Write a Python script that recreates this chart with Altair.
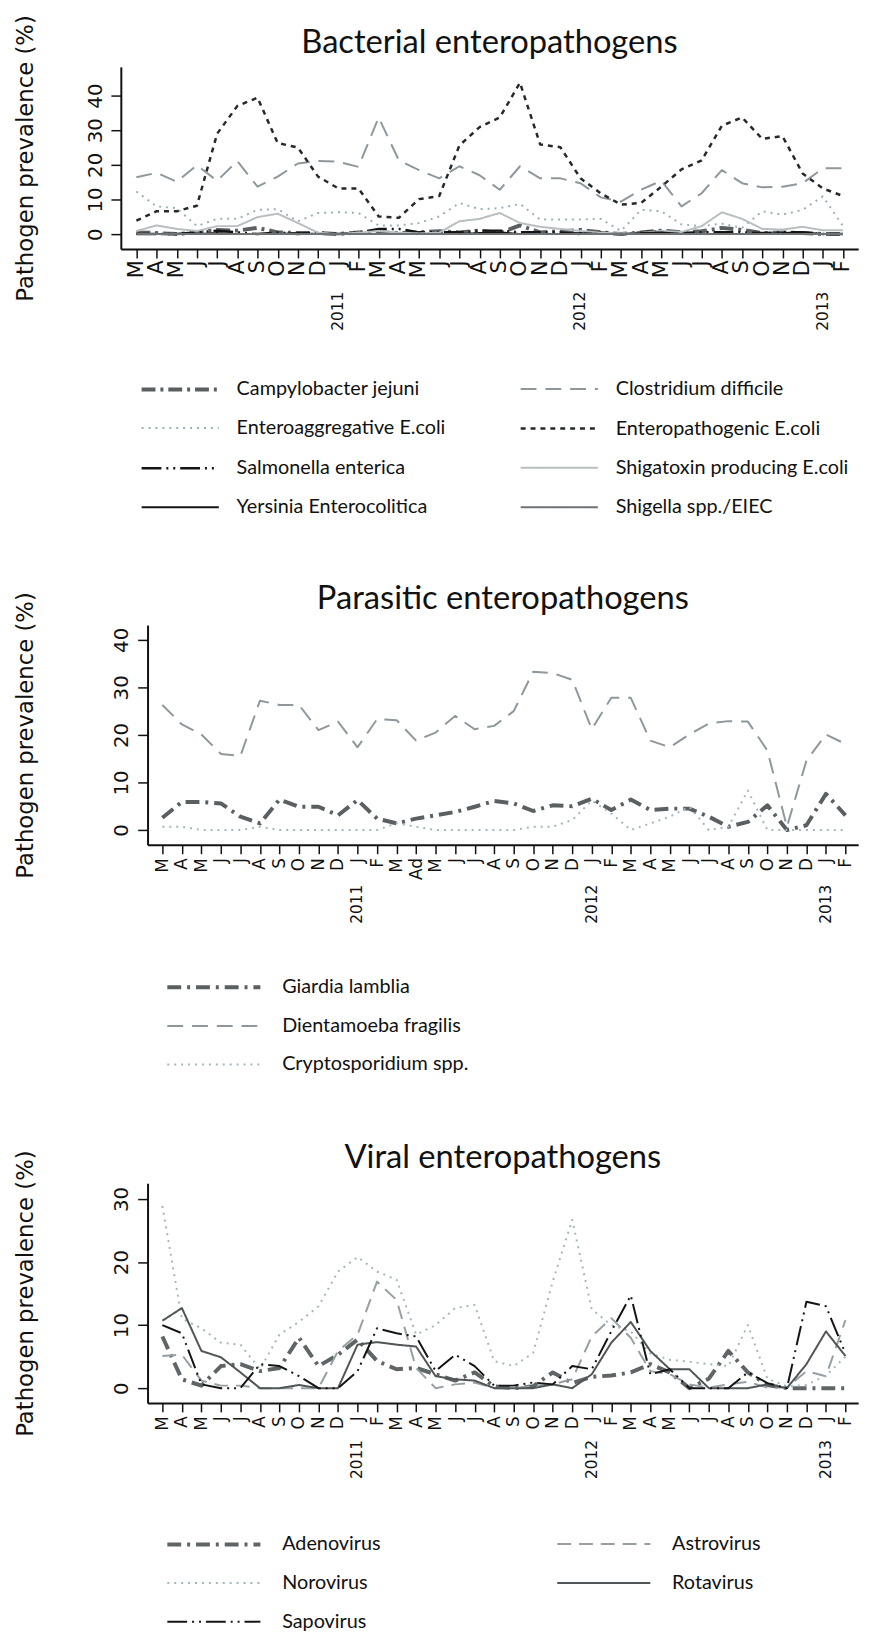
import altair as alt
import pandas as pd

# ---------------- axis texts ----------------
MONTHS = ["M", "A", "M", "J", "J", "A", "S", "O", "N", "D", "J", "F"] * 3
MONTHS_PARA = MONTHS[:13] + ["Ad"] + MONTHS[14:]
YEARS = ["2011", "2012", "2013"]
YEAR_IDX = [10, 22, 34]

# ---------------- bacterial ----------------
BACT_NAMES = ["Campylobacter jejuni", "Clostridium difficile", "Enteroaggregative E.coli",
              "Enteropathogenic E.coli", "Salmonella enterica", "Shigatoxin producing E.coli",
              "Yersinia Enterocolitica", "Shigella spp./EIEC"]
campylobacter = [0.5, 0.3, 0, 0.5, 1.2, 1, 1.8, 0.5, 0.3, 0.3, 0, 0.5, 0.5, 0.3, 0.5, 0.8, 0.5, 1,
                 0.3, 2.5, 0.5, 0.8, 1.2, 0.5, 0, 0.5, 1, 0.5, 0.8, 1.8, 1.2, 0.3, 0.5, 0.3, 0, 0]
clostridium = [16.4, 17.7, 15.1, 19.9, 15.4, 21.1, 13.7, 16.6, 20.4, 21.1, 20.9, 19.4, 33.7, 21.3,
               18.5, 16.1, 19.6, 17, 12.8, 19.6, 16.1, 16.1, 14.7, 10.6, 9.4, 12.8, 15.4, 8, 11.8,
               18.5, 14.7, 13.5, 13.7, 14.7, 19, 19]
eaec = [12.3, 8, 7.5, 2.3, 4.4, 4.4, 7, 7.2, 3.7, 6.1, 6.3, 6.1, 2.5, 2.5, 3.2, 5.1, 9, 7.2, 7.5,
        8.7, 4.2, 4.2, 4.2, 4.4, 0.9, 7, 6.6, 2.8, 2.3, 3, 1.8, 6.6, 5.6, 7, 10.9, 2.3]
epec = [3.9, 6.6, 6.6, 8.2, 29, 37, 39.4, 26.3, 25, 16.6, 13.2, 13.2, 5.1, 4.7, 10.1, 11, 25.6,
        30.9, 33.7, 43.7, 25.9, 25.1, 16.1, 11.8, 8.5, 9, 13.7, 18.7, 21.3, 31.3, 33.7, 27.5,
        28.3, 17.5, 13.2, 11]
salmonella = [0, 0, 0, 0.5, 1, 0.5, 0, 0.5, 0, 0.5, 0, 0.5, 1.5, 1.5, 0.5, 0.5, 0.5, 1, 1, 0.5,
              0.5, 0.5, 0, 0.5, 0, 0.5, 0.8, 0.3, 0.5, 0.5, 0.5, 0.3, 0.5, 0.5, 0, 0]
stec = [0.9, 2.5, 1.5, 0.9, 2.3, 2.3, 4.9, 5.9, 3.2, 0.4, 0, 0.4, 0.9, 0.4, 0.2, 0.4, 3.7, 4.4,
        6.1, 3.2, 2.1, 1.5, 0.9, 0.4, 0.2, 0.4, 0.9, 0.6, 2.3, 6.3, 4.4, 1.5, 1.3, 2.1, 1.1, 1.1]
yersinia = [0, 0, 0, 0, 0.3, 0, 0, 0, 0.3, 0, 0, 0, 0, 0, 0, 0, 0, 0.3, 0.5, 0, 0, 0, 0.3, 0, 0,
            0.3, 0.5, 0, 0, 0, 0, 0, 0.3, 0.5, 0, 0]
shigella = [0, 0, 0, 0, 0, 0, 0, 0, 0, 0, 0, 0, 0, 0, 0, 0, 0, 0, 0, 0, 0, 0, 0, 0, 0, 0, 0, 0,
            0, 0, 0, 0, 0, 0, 0, 0]
BACT_SERIES = [campylobacter, clostridium, eaec, epec, salmonella, stec, yersinia, shigella]
BACT_COLORS = ["#5a5f62", "#8e979b", "#9aafb9", "#25292b", "#141414", "#b9bec0", "#141414", "#6e7274"]
BACT_DASHES = [[14, 5, 3, 5], [16, 9], [2, 5], [5, 5], [20, 5, 2, 5, 2, 5], [1, 0], [1, 0], [1, 0]]
BACT_WIDTHS = [4, 2, 2, 2.5, 2.5, 2, 2, 2]

# ---------------- parasitic ----------------
PARA_NAMES = ["Giardia lamblia", "Dientamoeba fragilis", "Cryptosporidium spp."]
giardia = [2.6, 5.9, 5.9, 5.6, 2.8, 1.4, 6.4, 4.9, 4.9, 3.1, 6.3, 2.4, 1.4, 2.4, 3.1, 3.8, 4.9,
           6.1, 5.6, 4, 5.2, 5, 6.6, 4.2, 6.4, 4.2, 4.5, 4.5, 2.8, 0.7, 1.7, 5.2, 0, 1, 7.6, 3.1]
dientamoeba = [26.3, 22.2, 20.1, 16, 15.6, 27.2, 26.3, 26.3, 21, 22.8, 17.4, 23.3, 23.1, 18.8,
               20.5, 24, 21.2, 21.9, 25, 33.3, 33, 31.6, 21.2, 27.8, 27.8, 18.8, 17.4, 20.1,
               22.4, 22.9, 22.8, 16.7, 0.7, 14.6, 20.1, 18.1]
cryptosporidium = [0.7, 0.7, 0, 0, 0, 0.7, 0, 0, 0, 0, 0, 0, 1.4, 0.7, 0, 0, 0, 0, 0, 0.7, 0.7,
                   2.1, 6.2, 3.5, 0, 1.4, 2.8, 4.9, 0, 0.7, 8.3, 0, 0, 0, 0, 0]
PARA_SERIES = [giardia, dientamoeba, cryptosporidium]
PARA_COLORS = ["#5a5f62", "#8e979b", "#a3b5be"]
PARA_DASHES = [[14, 6, 3, 6], [16, 9], [2, 5]]
PARA_WIDTHS = [4, 2, 2]

# ---------------- viral ----------------
VIR_NAMES = ["Adenovirus", "Astrovirus", "Norovirus", "Rotavirus", "Sapovirus"]
adenovirus = [8.2, 1.4, 0.4, 3.5, 3.8, 2.7, 3.2, 8, 3.5, 5.3, 7.7, 4.3, 3, 3.2, 2.2, 1.2, 2.5,
              0.3, 0, 0.3, 2.5, 0.8, 1.8, 2, 2.5, 3.8, 2.5, 0, 1.5, 5.9, 2.5, 0.5, 0, 0, 0, 0]
astrovirus = [5.1, 5.3, 1.2, 0.4, 0.4, 0, 0, 0, 0, 5.9, 8.5, 16.9, 14, 3.2, 0, 0.6, 0.9, 0, 0,
              0.4, 0.6, 1.4, 8.2, 11.1, 8, 2.7, 2.2, 0.6, 0.1, 0.6, 1, 0.1, 0.1, 2.7, 1.9, 10.8]
norovirus = [28.9, 11, 9.5, 7.2, 6.9, 3, 8.5, 10.5, 13, 18.5, 20.8, 18.5, 17.2, 8.5, 10, 12.7,
             13.2, 4.3, 3.5, 5.6, 16.9, 26.7, 12.5, 10, 9, 5.5, 4.5, 4.2, 3.8, 3.5, 10, 1.5, 0.3,
             0.5, 2, 5]
rotavirus = [10.7, 12.7, 5.9, 4.9, 2.5, 0, 0, 0.5, 0, 0, 6.9, 7.3, 6.9, 6.6, 1.9, 1.4, 1.2, 0, 0,
             0, 0.6, 0, 2.2, 7.2, 10.5, 5.9, 3, 3, 0, 0, 0, 0.6, 0, 3.8, 9, 5.1]
sapovirus = [10, 8.7, 0.6, 0, 0, 3.8, 3.5, 1.9, 0, 0, 2.7, 9.5, 8.7, 8.2, 2.7, 5.3, 3.5, 0.4, 0.4,
             0.9, 0.6, 3.5, 3, 9, 14.7, 2.2, 3, 0, 0, 0, 2.5, 0.8, 0, 13.7, 13, 5.5]
VIR_SERIES = [adenovirus, astrovirus, norovirus, rotavirus, sapovirus]
VIR_COLORS = ["#5f6466", "#979fa3", "#a3b5be", "#505557", "#141414"]
VIR_DASHES = [[14, 6, 3, 6], [14, 8], [2, 5], [1, 0], [20, 5, 2, 5, 2, 5]]
VIR_WIDTHS = [4, 2, 2, 2, 2]

AX_FONT = "DejaVu Sans"
TXT_FONT = "Lato"
INK = "#111111"
WIDTH = 745
HEIGHT = 222
SYM = 56  # legend symbol size base (px)


def long_df(names, series):
    rows = []
    for name, vals in zip(names, series):
        for i, v in enumerate(vals):
            rows.append({"i": i, "pathogen": name, "value": v})
    return pd.DataFrame(rows)


def make_legend(lx, ly, cols, colpad, symlen, lbloff):
    k = symlen / SYM
    path = "M-%.3f,0H%.3f" % (k, k)
    return alt.Legend(orient="none", legendX=lx, legendY=ly, columns=cols, direction="horizontal",
                      columnPadding=colpad, rowPadding=0, symbolType=path,
                      symbolSize=SYM * SYM, labelFont=TXT_FONT, labelFontSize=20,
                      labelColor=INK, labelOffset=lbloff, labelLimit=400, padding=0)


def panel(names, series, colors, dashes, widths, title, title_x, title_y, months, month_size,
          month_pad, xdomain, xrange, xoffset, ydomain, yrange, yticks, yoffset, ytitle_pad,
          year_y, legend):
    df = long_df(names, series)
    expr = "[" + ",".join("'" + m + "'" for m in months) + "][datum.value]"
    xscale = alt.Scale(domain=xdomain, range=xrange, nice=False, zero=False)
    xaxis = alt.Axis(values=list(range(len(months))), labelExpr=expr, labelAngle=-90,
                     labelAlign="right", labelBaseline="middle", labelOverlap=False,
                     labelFlush=False, labelFont=AX_FONT, labelFontSize=month_size,
                     labelColor=INK, labelPadding=month_pad, tickSize=9, tickWidth=1.5,
                     tickColor=INK, domainColor=INK, domainWidth=2, grid=False, offset=xoffset)
    x = alt.X("i:Q", title=None, scale=xscale, axis=xaxis)
    yaxis = alt.Axis(values=yticks, labelAngle=-90, labelAlign="center", labelBaseline="bottom",
                     labelFont=AX_FONT, labelFontSize=20, labelColor=INK, labelPadding=6,
                     tickSize=10, tickWidth=1.5, tickColor=INK, domainColor=INK, domainWidth=2,
                     grid=False, offset=yoffset, title="Pathogen prevalence (%)",
                     titleFont=AX_FONT, titleFontSize=23, titleFontWeight="normal",
                     titleColor=INK, titlePadding=ytitle_pad)
    yscale = alt.Scale(domain=ydomain, range=yrange, nice=False, zero=False)
    y = alt.Y("value:Q", scale=yscale, axis=yaxis)
    lines = alt.Chart(df).mark_line(strokeJoin="round").encode(
        x=x, y=y,
        color=alt.Color("pathogen:N", title=None,
                        scale=alt.Scale(domain=names, range=colors), legend=legend),
        strokeDash=alt.StrokeDash("pathogen:N", title=None,
                                  scale=alt.Scale(domain=names, range=dashes), legend=legend),
        strokeWidth=alt.StrokeWidth("pathogen:N", title=None,
                                    scale=alt.Scale(type="ordinal", domain=names, range=widths),
                                    legend=legend),
    )
    ydf = pd.DataFrame({"i": YEAR_IDX, "year": YEARS})
    years = alt.Chart(ydf).mark_text(angle=270, align="center", baseline="middle",
                                     font=AX_FONT, fontSize=15.5, color=INK).encode(
        x=x, y=alt.value(year_y), text="year:N")
    tdf = pd.DataFrame({"t": [title]})
    ttl = alt.Chart(tdf).mark_text(align="center", baseline="alphabetic", font=TXT_FONT,
                                   fontSize=33, color=INK).encode(
        x=alt.value(title_x), y=alt.value(title_y), text="t:N")
    return alt.layer(lines, years, ttl).properties(width=WIDTH, height=HEIGHT)


bact = panel(BACT_NAMES, BACT_SERIES, BACT_COLORS, BACT_DASHES, BACT_WIDTHS,
             "Bacterial enteropathogens", 372.5, -14, MONTHS, 21, 2,
             [-0.77, 35.75], [0, WIDTH], -38, [-4.3, 48.3], [184, 0], [0, 10, 20, 30, 40],
             0, 48, 247, make_legend(30, 296, 2, 69, 78, 27))
para = panel(PARA_NAMES, PARA_SERIES, PARA_COLORS, PARA_DASHES, PARA_WIDTHS,
             "Parasitic enteropathogens", 386, -16, MONTHS_PARA, 17, 4,
             [-0.76, 35.65], [27, WIDTH], 0, [-3.1, 43.1], [HEIGHT, 0], [0, 10, 20, 30, 40],
             -27, 75, 282, make_legend(64, 336, 1, 100, 94, 39))
viral = panel(VIR_NAMES, VIR_SERIES, VIR_COLORS, VIR_DASHES, VIR_WIDTHS,
              "Viral enteropathogens", 386, -15, MONTHS, 17, 4,
              [-0.76, 35.65], [27, WIDTH], 0, [-2.35, 32.5], [HEIGHT, 0], [0, 10, 20, 30],
              -27, 75, 279, make_legend(64, 335, 2, 173, 94, 39))

chart = alt.vconcat(bact, para, viral, spacing=342, bounds="flush").resolve_scale(
    color="independent", strokeDash="independent", strokeWidth="independent"
).resolve_legend(
    color="independent", strokeDash="independent", strokeWidth="independent"
).properties(
    autosize=alt.AutoSizeParams(type="none"),
    padding={"left": 114, "top": 51, "right": 15, "bottom": 1580},
    background="white",
).configure_view(stroke=None)

chart.save("out.html", embed_options={"renderer": "svg", "actions": False})
